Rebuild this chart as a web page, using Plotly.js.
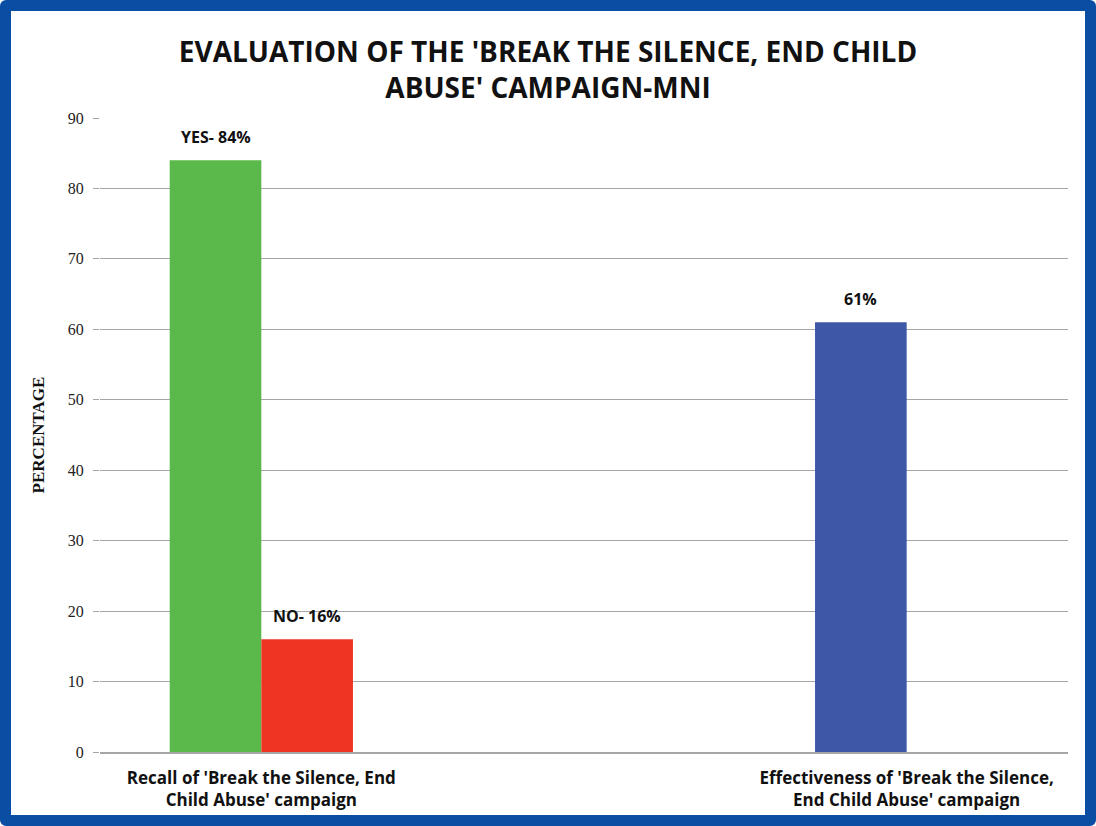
<!DOCTYPE html>
<html>
<head>
<meta charset="utf-8">
<script src="https://cdn.plot.ly/plotly-3.0.1.min.js"></script>
<style>
html,body{margin:0;padding:0;background:#ffffff;}
#frame{position:absolute;left:0;top:0;width:1096px;height:826px;box-sizing:border-box;border:11px solid #0a4ea3;border-radius:6px;background:#fff;}
#chart{width:1074px;height:804px;}
</style>
</head>
<body>
<div id="frame"><div id="chart"></div></div>
<script>
var categories = ["Recall of 'Break the Silence, End<br>Child Abuse' campaign", "", "Effectiveness of 'Break the Silence,<br>End Child Abuse' campaign"];
var categoryPos = [0, 1, 2];
var series1Pos = [0, 2];
var series1Values = [84, 61];
var series1Labels = ["YES- 84%", "61%"];
var series1Colors = ["#5bb84a", "#3e57a6"];
var series2Pos = [0];
var series2Values = [16];
var series2Labels = ["NO- 16%"];
var series2Colors = ["#ee3524"];
var yTicks = [0, 10, 20, 30, 40, 50, 60, 70, 80, 90];

var bargap = 0.432;
var barW = (1 - bargap) / 2;
var labelFont = {family: 'Open Sans, Liberation Sans, sans-serif', size: 16, color: '#111', weight: 'bold'};

var traces = [
  {type: 'bar', x: series1Pos, y: series1Values, width: barW, offset: -barW, marker: {color: series1Colors}, hoverinfo: 'none'},
  {type: 'bar', x: series2Pos, y: series2Values, width: barW, offset: 0, marker: {color: series2Colors}, hoverinfo: 'none'}
];

var annotations = [];
series1Pos.forEach(function(p, i){
  annotations.push({x: p - barW/2, y: series1Values[i], xref: 'x', yref: 'y', text: series1Labels[i], showarrow: false, yanchor: 'bottom', yshift: 10, font: labelFont});
});
series2Pos.forEach(function(p, i){
  annotations.push({x: p + barW/2, y: series2Values[i], xref: 'x', yref: 'y', text: series2Labels[i], showarrow: false, yanchor: 'bottom', yshift: 10, font: labelFont});
});

var layout = {
  width: 1074, height: 804,
  margin: {l: 89, r: 17, t: 107, b: 63},
  paper_bgcolor: '#ffffff', plot_bgcolor: '#ffffff',
  showlegend: false,
  barmode: 'overlay',
  title: {text: "<b>EVALUATION OF THE 'BREAK THE SILENCE, END CHILD<br>ABUSE' CAMPAIGN-MNI</b>", x: 0.5, xanchor: 'center', xref: 'container',
    y: 0.937, yref: 'container', yanchor: 'top',
    font: {family: 'Open Sans, Liberation Sans, sans-serif', size: 28, color: '#111'}},
  xaxis: {range: [-0.5, 2.5], tickvals: categoryPos, ticktext: categories, ticks: 'outside', ticklen: 10, tickcolor: 'rgba(0,0,0,0)', showgrid: false, zeroline: false,
    showline: true, linecolor: '#a6a6a6', linewidth: 1.5,
    tickfont: {family: 'Open Sans, Liberation Sans, sans-serif', size: 17, color: '#111', weight: 'bold'}},
  yaxis: {range: [0, 90], tickvals: yTicks, ticks: 'outside', ticklen: 6, tickcolor: '#a6a6a6', showgrid: true, gridcolor: '#a6a6a6', gridwidth: 1,
    zeroline: false, showline: false, ticklabelstandoff: 6,
    tickfont: {family: 'Liberation Serif, Times New Roman, serif', size: 16, color: '#222'},
    title: {text: '<b>PERCENTAGE</b>', standoff: 18, font: {family: 'Liberation Serif, Times New Roman, serif', size: 17, color: '#111'}}},
  annotations: annotations
};

Plotly.newPlot('chart', traces, layout, {displayModeBar: false, staticPlot: true});
</script>
</body>
</html>
